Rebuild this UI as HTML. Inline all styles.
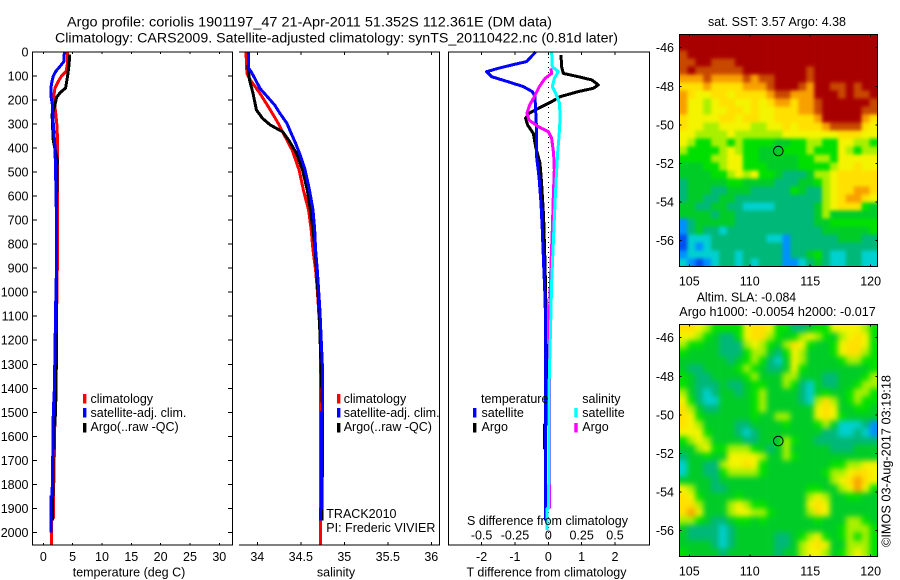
<!DOCTYPE html>
<html>
<head>
<meta charset="utf-8">
<title>Argo profile</title>
<style>
html,body{margin:0;padding:0;background:#fff;width:900px;height:580px;overflow:hidden}
svg{display:block}
text{font-family:"Liberation Sans",sans-serif;font-size:12.5px;fill:#000}
</style>
</head>
<body>
<svg id="chart" xmlns="http://www.w3.org/2000/svg" width="900" height="580" viewBox="0 0 900 580">
<defs>
<filter id="blur-sst" x="-10%" y="-10%" width="120%" height="120%" color-interpolation-filters="sRGB"><feGaussianBlur stdDeviation="1.8"/></filter>
<filter id="blur-sla" x="-10%" y="-10%" width="120%" height="120%" color-interpolation-filters="sRGB"><feGaussianBlur stdDeviation="3"/></filter>
<clipPath id="clip-sst"><rect x="679.5" y="34.5" width="198" height="232"/></clipPath>
<clipPath id="clip-sla"><rect x="679.5" y="324.5" width="198" height="232"/></clipPath>
</defs>
<text x="67" y="26.5" font-size="13.5" style="font-size:13.5px" textLength="485" lengthAdjust="spacingAndGlyphs">Argo profile: coriolis 1901197_47 21-Apr-2011 51.352S 112.361E (DM data)</text>
<text x="55" y="42.5" style="font-size:13.5px" textLength="563" lengthAdjust="spacingAndGlyphs">Climatology: CARS2009. Satellite-adjusted climatology: synTS_20110422.nc (0.81d later)</text>

<g id="panels"></g>

<text x="129" y="576.5" text-anchor="middle">temperature (deg C)</text>
<text x="336" y="576.5" text-anchor="middle">salinity</text>
<text x="546.5" y="576.5" text-anchor="middle">T difference from climatology</text>
<text x="547.5" y="525" text-anchor="middle">S difference from climatology</text>

<g>
<rect x="83" y="394" width="3.4" height="9.5" fill="#ff0000"/>
<text x="90.5" y="403">climatology</text>
<rect x="83" y="408" width="3.4" height="9.5" fill="#0000ff"/>
<text x="90.5" y="417">satellite-adj. clim.</text>
<rect x="83" y="423" width="3.4" height="9.5" fill="#000"/>
<text x="90.5" y="431">Argo(..raw -QC)</text>
</g>
<g>
<rect x="337" y="394" width="3.4" height="9.5" fill="#ff0000"/>
<text x="343.7" y="403">climatology</text>
<rect x="337" y="408" width="3.4" height="9.5" fill="#0000ff"/>
<text x="343.7" y="417">satellite-adj. clim.</text>
<rect x="337" y="423" width="3.4" height="9.5" fill="#000"/>
<text x="343.7" y="431">Argo(..raw -QC)</text>
</g>
<text x="326.3" y="518">TRACK2010</text>
<text x="326.3" y="532">PI: Frederic VIVIER</text>

<g>
<text x="481" y="403">temperature</text>
<rect x="473" y="408" width="3.4" height="9.5" fill="#0000ff"/>
<text x="481.5" y="417">satellite</text>
<rect x="473" y="423" width="3.4" height="9.5" fill="#000"/>
<text x="481.5" y="431">Argo</text>
<text x="582.3" y="403">salinity</text>
<rect x="574.3" y="408" width="3.4" height="9.5" fill="#00ffff"/>
<text x="582.3" y="417">satellite</text>
<rect x="574.3" y="423" width="3.4" height="9.5" fill="#ff00ff"/>
<text x="582.3" y="431">Argo</text>
</g>

<g id="maps"></g>

<text x="777" y="26" text-anchor="middle" textLength="138" lengthAdjust="spacingAndGlyphs">sat. SST: 3.57 Argo: 4.38</text>
<text x="696.7" y="301.5" textLength="99.5" lengthAdjust="spacingAndGlyphs">Altim. SLA: -0.084</text>
<text x="679.3" y="316" textLength="196.5" lengthAdjust="spacingAndGlyphs">Argo h1000: -0.0054 h2000: -0.017</text>
<text transform="translate(890.5,547) rotate(-90)" textLength="172" lengthAdjust="spacingAndGlyphs">©IMOS 03-Aug-2017 03:19:18</text>
</svg>

<script>
// ---- axis tick values ----
const depthTicks = [0,100,200,300,400,500,600,700,800,900,1000,1100,1200,1300,1400,1500,1600,1700,1800,1900,2000];
const tempTicks = [0,5,10,15,20,25,30];
const salTicks = [34,34.5,35,35.5,36];
const salTickLabels = ['34','34.5','35','35.5','36'];
const diffTTicks = [-2,-1,0,1,2];
const diffSTicks = [-0.5,-0.25,0,0.25,0.5];
const diffSTickLabels = ['-0.5','-0.25','0','0.25','0.5'];
const lonTicks = [105,110,115,120];
const latTicks = [-46,-48,-50,-52,-54,-56];

// ---- temperature profiles ----
const tempClimDepth = [0,50,80,100,120,150,180,200,250,300,350,400,600,870,1200,1500,1700,1790,1791,1940,1941,2000,2052];
const tempClimValues = [4.1,4.1,3.9,3.1,2.6,2.0,1.8,1.8,2.1,2.3,2.4,2.45,2.4,2.4,2.2,2.0,1.85,1.85,1.7,1.7,1.4,1.4,1.4];
const tempSatDepth = [0,40,60,80,100,120,150,190,220,300,400,500,700,900,1000,1400,1500,1700,1850,1851,2000];
const tempSatValues = [3.6,3.5,2.85,2.15,1.7,1.5,1.3,1.35,1.55,1.7,2.0,2.1,2.25,2.25,2.15,1.9,1.7,1.6,1.5,1.3,1.3];
const tempArgoDepth = [10,50,100,150,170,190,220,260,320,370,450,520,1000,1400,1550,1551,1650,1651,1900,1950];
const tempArgoValues = [4.5,4.4,4.15,3.8,2.85,2.25,2.0,1.5,1.6,1.7,2.4,2.3,2.25,2.2,2.0,1.85,1.85,1.65,1.6,1.6];

// ---- salinity profiles ----
const salClimDepth = [0,89,116,172,241,297,352,408,491,575,658,741,824,908,991,1074,1200,2052];
const salClimValues = [33.87,33.88,33.92,34.03,34.15,34.24,34.32,34.4,34.48,34.53,34.59,34.62,34.64,34.67,34.69,34.705,34.728,34.728];
const salSatDepth = [0,68,82,116,151,186,221,255,297,339,380,436,491,575,658,741,824,908,991,1074,1300,1500,1501,1900,1901,1950];
const salSatValues = [33.9,33.9,33.93,33.98,34.03,34.115,34.2,34.26,34.34,34.39,34.44,34.5,34.55,34.6,34.64,34.66,34.67,34.69,34.705,34.72,34.747,34.747,34.737,34.737,34.728,34.728];
const salArgoDepth = [54,116,172,241,276,304,332,366,422,491,575,658,741,824,908,1074,1500,1600,1850,1950];
const salArgoValues = [33.89,33.91,33.95,33.99,34.06,34.15,34.29,34.36,34.45,34.52,34.575,34.61,34.64,34.665,34.68,34.71,34.75,34.75,34.745,34.745];

// ---- difference profiles ----
const diffTSatDepth = [0,40,54,68,82,103,124,144,165,186,241,325,436,519,630,741,880,1019,1074,1400,1500,1650,1900,1950];
const diffTSatValues = [-0.38,-0.65,-1.1,-1.5,-1.85,-1.7,-1.2,-0.75,-0.48,-0.4,-0.38,-0.35,-0.35,-0.28,-0.22,-0.18,-0.14,-0.1,-0.09,-0.08,-0.08,-0.09,-0.09,-0.09];
const diffTArgoDepth = [12,61,89,103,116,137,151,165,186,207,235,255,276,304,339,394,463,547,686,880,1074,1400,1550,1551,1650,1651,1900,1950];
const diffTArgoValues = [0.38,0.4,0.45,0.9,1.3,1.5,1.35,0.9,0.35,0.1,-0.3,-0.58,-0.68,-0.62,-0.45,-0.38,-0.25,-0.2,-0.14,-0.1,-0.07,-0.05,-0.05,-0.11,-0.11,-0.08,-0.08,-0.08];
const diffSSatDepth = [0,61,82,110,144,172,214,283,352,422,519,630,797,963,1074,1400,1900,1901,1990];
const diffSSatValues = [0.025,0.03,0.075,0.045,0.03,0.055,0.085,0.0875,0.08,0.07,0.06,0.05,0.0375,0.025,0.02,0.005,0.003,-0.008,-0.008];
const diffSArgoDepth = [68,89,110,144,186,221,255,283,311,332,359,422,491,602,741,880,1074,1400,1900];
const diffSArgoValues = [0.02,0.025,-0.025,-0.0675,-0.105,-0.14,-0.16,-0.145,-0.075,0,0.025,0.04,0.045,0.0375,0.03,0.02,0.01,0.008,0.008];

// ---- argo float position ----
const floatLon = [112.361];
const floatLat = [-51.352];

// ---- colour classes for the maps ----
const mapColours = ['#0050f0','#0090ff','#00d0d0','#00b878','#00cc28','#00e000','#a8f000','#f4f400','#ffe000','#f8a000','#c84800','#a80000'];

// ---- SST map classes, north to south ----
const sstGrid = [
[11,11,11,11,11,11,11,11,11,11,11,11,11,11,11,11,11,11,11,11,11,11,11,11,11],
[11,11,11,11,11,11,11,11,11,11,11,11,11,11,11,11,11,11,11,11,11,11,11,11,11],
[10,11,11,11,11,11,11,11,11,11,11,11,11,11,11,11,11,11,11,11,11,11,11,11,11],
[10,10,11,11,10,10,10,11,11,11,11,11,11,11,11,11,11,11,11,11,11,11,11,11,11],
[10,11,10,10,10,10,10,10,11,11,11,11,11,11,11,11,10,11,11,11,11,11,11,11,11],
[9,9,9,10,9,9,9,9,10,9,10,10,11,11,11,11,10,11,11,11,11,11,11,11,11],
[8,8,8,9,8,8,8,8,9,9,9,10,11,11,11,10,9,11,11,10,10,11,10,11,11],
[9,8,7,7,8,8,7,8,8,8,8,9,10,10,9,9,9,11,11,11,10,11,10,10,11],
[9,7,7,6,7,8,8,7,7,8,7,8,9,9,8,9,9,10,11,11,11,11,11,11,10],
[9,7,7,6,7,7,8,8,7,8,7,7,8,8,8,9,9,10,11,11,11,11,11,10,10],
[8,7,7,7,7,8,8,7,8,8,7,7,8,8,8,8,8,9,11,11,11,11,11,9,8],
[8,7,7,6,6,7,7,7,7,6,6,7,7,8,7,8,8,8,9,10,10,10,10,8,7],
[7,7,6,6,6,6,7,6,6,6,6,6,6,7,7,7,7,7,7,7,8,8,8,7,7],
[7,6,5,5,6,6,5,6,5,5,5,5,4,4,5,5,6,6,5,5,7,7,6,6,5],
[6,5,5,5,5,6,7,6,5,5,4,4,4,5,5,5,6,5,5,5,7,6,5,6,6],
[5,5,5,5,6,6,7,7,5,5,4,4,4,4,4,5,5,6,6,5,7,7,7,7,7],
[4,4,4,5,5,6,7,7,5,5,5,4,4,4,4,5,5,5,5,6,7,7,8,7,7],
[4,4,4,4,5,5,6,7,6,7,5,5,4,3,3,3,4,6,6,7,8,8,8,8,8],
[3,4,4,4,4,4,5,5,4,4,4,4,3,3,3,4,4,5,6,7,8,8,8,8,8],
[3,4,4,4,3,3,4,4,4,3,3,3,3,3,5,4,3,3,6,7,8,8,9,9,8],
[3,4,4,3,3,4,4,3,3,3,3,3,3,3,3,3,3,3,6,7,8,9,9,8,7],
[4,4,3,3,4,4,3,3,2,2,2,2,3,3,3,3,3,4,6,7,8,8,8,5,4],
[4,4,4,4,3,4,4,3,3,3,3,3,3,3,3,3,3,4,6,4,4,4,4,4,4],
[1,3,4,4,4,4,4,3,3,3,3,3,3,3,3,3,3,4,4,5,5,5,5,5,5],
[1,3,4,3,3,2,3,3,3,3,3,3,3,3,3,3,3,3,4,4,4,4,4,4,5],
[0,2,2,2,3,3,3,3,3,3,3,2,2,1,3,3,3,3,3,3,4,4,4,3,3],
[0,2,1,2,3,3,3,3,3,3,3,3,3,1,3,3,3,3,3,3,3,3,3,3,3],
[1,2,2,2,2,3,3,2,3,3,3,3,3,1,3,3,4,5,3,2,2,3,3,2,2],
[2,1,0,1,2,3,3,2,3,2,3,3,3,1,1,2,3,4,3,2,2,3,3,2,2]
];

// ---- SLA map classes, north to south ----
const slaGrid = [
[8,8,7,6,5,5,5,5,7,8,8,7,5,5,3,3,4,5,5,7,7,7,7,6,5],
[7,7,6,5,4,3,3,5,7,8,8,6,5,4,5,6,7,6,5,4,6,7,8,7,5],
[6,5,5,4,4,3,3,3,6,7,6,5,4,6,8,7,5,4,4,5,7,8,8,7,5],
[5,4,4,4,4,3,3,3,5,6,6,4,3,5,7,6,4,4,4,5,7,8,8,6,5],
[4,4,4,4,4,4,3,4,5,6,5,3,2,4,7,6,4,4,4,4,5,6,6,5,5],
[4,3,3,4,4,4,4,5,6,5,4,3,3,4,7,5,4,4,4,4,4,4,4,4,5],
[5,4,3,3,4,4,4,4,5,6,4,4,4,6,6,4,4,4,3,3,4,4,4,5,6],
[5,4,3,3,3,4,3,3,4,5,5,4,4,6,5,3,2,4,3,3,4,4,5,6,6],
[6,4,3,2,3,4,4,3,4,5,6,4,4,4,4,3,2,4,5,4,4,5,6,6,5],
[7,5,3,2,2,4,4,4,4,5,6,4,4,4,4,3,2,6,8,6,4,5,6,5,5],
[8,6,4,3,3,4,4,4,4,5,6,4,4,4,4,4,4,7,8,7,4,4,5,5,4],
[8,7,5,4,4,4,4,4,4,5,4,4,6,6,4,4,4,7,8,7,5,4,4,4,4],
[8,7,6,4,4,4,4,3,3,4,4,4,4,5,4,4,4,5,6,4,2,2,2,3,1],
[7,7,7,5,4,4,4,3,2,3,4,4,4,4,4,4,4,4,3,3,2,2,3,2,1],
[5,6,7,6,4,4,4,4,3,3,4,4,4,6,5,4,4,3,3,3,3,3,3,3,3],
[4,4,6,7,5,5,6,6,6,5,4,3,4,6,4,4,4,4,4,3,3,3,4,4,4],
[3,4,4,5,4,4,7,7,7,7,6,4,4,6,5,4,4,4,4,4,4,4,4,4,4],
[2,4,4,3,3,6,7,7,8,7,5,4,4,4,4,4,4,4,4,5,5,6,6,7,7],
[2,4,4,3,3,5,6,6,6,6,5,4,4,4,4,4,4,4,5,6,6,7,8,8,7],
[4,4,4,4,3,4,4,4,4,4,4,4,4,4,4,4,4,4,4,6,7,8,9,8,7],
[7,6,4,4,3,3,4,4,4,4,4,4,4,4,4,4,5,5,4,4,6,7,9,7,5],
[8,7,5,4,4,4,4,5,4,4,4,4,4,4,4,4,6,7,6,4,4,5,5,4,4],
[8,8,6,4,4,4,6,7,6,5,5,4,4,4,4,4,7,8,7,4,4,4,4,4,4],
[8,9,7,4,4,4,6,7,7,6,6,5,4,4,4,4,6,8,7,4,4,4,4,4,4],
[6,6,5,4,3,3,4,5,5,4,5,4,4,4,4,4,4,5,4,4,4,6,6,5,4],
[4,3,3,3,3,2,3,4,4,4,4,4,4,4,4,4,4,4,4,4,5,6,6,6,5],
[4,3,3,3,3,2,3,4,4,4,4,4,3,3,4,5,6,7,5,4,5,6,5,6,5],
[4,4,4,4,3,2,3,4,4,4,4,4,3,3,4,6,7,8,7,4,4,6,6,6,5],
[5,4,4,4,4,3,4,4,4,4,4,4,3,4,4,6,7,7,6,4,5,6,7,6,5]
];

// ---- axis functions ----
const yDepth = d => 52 + d * 0.2402;
const xTemp = t => 43.3 + t * 5.867;
const xSal = s => 257.3 + (s - 34) * 87;
const xDiffT = t => 548.3 + t * 33.35;
const xDiffS = s => 548.3 + s * 133.4;
const xLon = lon => 689.3 + (lon - 105) * 12.09;
const yLatSst = lat => 47.7 + (-46 - lat) * 19.3;
const yLatSla = lat => 337.7 + (-46 - lat) * 19.3;

const NS = 'http://www.w3.org/2000/svg';
const panelRoot = document.getElementById('panels');
const mapRoot = document.getElementById('maps');

function addLine(parent, name, x1, y1, x2, y2, width) {
  const el = document.createElementNS(NS, 'line');
  
  
  el.setAttribute('x1', x1);
  el.setAttribute('y1', y1);
  el.setAttribute('x2', x2);
  el.setAttribute('y2', y2);
  el.setAttribute('stroke', '#000');
  el.setAttribute('stroke-width', width || 1);
  el.setAttribute('shape-rendering', 'crispEdges');
  parent.appendChild(el);
  return el;
}

function addLabel(parent, name, x, y, anchor, str) {
  const el = document.createElementNS(NS, 'text');
  
  
  el.setAttribute('x', x);
  el.setAttribute('y', y);
  el.setAttribute('text-anchor', anchor);
  el.textContent = str;
  parent.appendChild(el);
  return el;
}

function addProfile(parent, name, depths, values, xFn, colour, width) {
  const el = document.createElementNS(NS, 'polyline');
  
  
  el.setAttribute('points', depths.map((d, i) => xFn(values[i]).toFixed(1) + ',' + yDepth(d).toFixed(1)).join(' '));
  el.setAttribute('fill', 'none');
  el.setAttribute('stroke', colour);
  el.setAttribute('stroke-width', width);
  el.setAttribute('shape-rendering', 'crispEdges');
  el.setAttribute('stroke-linejoin', 'round');
  parent.appendChild(el);
  return el;
}

function addGroup(parent, name) {
  const el = document.createElementNS(NS, 'g');
  
  
  parent.appendChild(el);
  return el;
}

const TOP = 52, BOTTOM = 545;

// temperature panel
const tempPanel = addGroup(panelRoot, 'temperature-panel');
addProfile(tempPanel, 'temperature-climatology-line', tempClimDepth, tempClimValues, xTemp, '#ff0000', 3);
addProfile(tempPanel, 'temperature-argo-line', tempArgoDepth, tempArgoValues, xTemp, '#000000', 3);
addProfile(tempPanel, 'temperature-satellite-line', tempSatDepth, tempSatValues, xTemp, '#0000ff', 3);
addLine(tempPanel, 'temperature-axis-top', 32, TOP, 233, TOP);
addLine(tempPanel, 'temperature-axis-bottom', 32, BOTTOM, 233, BOTTOM);
addLine(tempPanel, 'temperature-axis-left', 32.5, TOP, 32.5, BOTTOM);
addLine(tempPanel, 'temperature-axis-right', 232.5, TOP, 232.5, BOTTOM);
depthTicks.forEach(d => {
  addLine(tempPanel, 'depth-tick-left', 32.5, yDepth(d), 37, yDepth(d));
  addLine(tempPanel, 'depth-tick-right', 228, yDepth(d), 232.5, yDepth(d));
  addLabel(tempPanel, 'depth-tick-label', 28.5, yDepth(d) + 4.5, 'end', String(d));
});
tempTicks.forEach(t => {
  addLine(tempPanel, 'temperature-tick-top', xTemp(t), TOP, xTemp(t), TOP + 2);
  addLine(tempPanel, 'temperature-tick-bottom', xTemp(t), BOTTOM - 2, xTemp(t), BOTTOM);
  addLabel(tempPanel, 'temperature-tick-label', xTemp(t), 561, 'middle', String(t));
});

// salinity panel
const salPanel = addGroup(panelRoot, 'salinity-panel');
addProfile(salPanel, 'salinity-climatology-line', salClimDepth, salClimValues, xSal, '#ff0000', 3);
addProfile(salPanel, 'salinity-argo-line', salArgoDepth, salArgoValues, xSal, '#000000', 3);
addProfile(salPanel, 'salinity-satellite-line', salSatDepth, salSatValues, xSal, '#0000ff', 3);
addLine(salPanel, 'salinity-axis-top', 239, TOP, 440, TOP);
addLine(salPanel, 'salinity-axis-bottom', 239, BOTTOM, 440, BOTTOM);
addLine(salPanel, 'salinity-axis-right', 439.5, TOP, 439.5, BOTTOM);
salTicks.forEach((s, i) => {
  addLine(salPanel, 'salinity-tick-top', xSal(s), TOP, xSal(s), TOP + 3);
  addLine(salPanel, 'salinity-tick-bottom', xSal(s), BOTTOM - 3, xSal(s), BOTTOM);
  addLabel(salPanel, 'salinity-tick-label', xSal(s), 561, 'middle', salTickLabels[i]);
});

// difference panel
const diffPanel = addGroup(panelRoot, 'difference-panel');
const zeroLine = addLine(diffPanel, 'zero-difference-line', xDiffT(0), TOP, xDiffT(0), BOTTOM);
zeroLine.setAttribute('stroke-dasharray', '1 4');
addProfile(diffPanel, 'difference-t-argo-line', diffTArgoDepth, diffTArgoValues, xDiffT, '#000000', 3);
addProfile(diffPanel, 'difference-t-satellite-line', diffTSatDepth, diffTSatValues, xDiffT, '#0000ff', 3);
addProfile(diffPanel, 'difference-s-argo-line', diffSArgoDepth, diffSArgoValues, xDiffS, '#ff00ff', 3);
addProfile(diffPanel, 'difference-s-satellite-line', diffSSatDepth, diffSSatValues, xDiffS, '#00ffff', 3);
addLine(diffPanel, 'difference-axis-top', 448, TOP, 650, TOP);
addLine(diffPanel, 'difference-axis-bottom', 448, BOTTOM, 650, BOTTOM);
addLine(diffPanel, 'difference-axis-left', 448.5, TOP, 448.5, BOTTOM);
addLine(diffPanel, 'difference-axis-right', 649.5, TOP, 649.5, BOTTOM);
diffTTicks.forEach(t => {
  addLine(diffPanel, 'difference-t-tick-top', xDiffT(t), TOP, xDiffT(t), TOP + 3);
  addLine(diffPanel, 'difference-t-tick-bottom', xDiffT(t), BOTTOM - 3, xDiffT(t), BOTTOM);
  addLabel(diffPanel, 'difference-t-tick-label', xDiffT(t), 561, 'middle', String(t));
});
diffSTicks.forEach((s, i) => {
  addLabel(diffPanel, 'difference-s-tick-label', xDiffS(s), 539.5, 'middle', diffSTickLabels[i]);
});

// maps
function drawMap(name, grid, clipId, filterId, top, yLat) {
  const root = addGroup(mapRoot, name);
  const clip = addGroup(root, name + '-clip');
  clip.setAttribute('clip-path', 'url(#' + clipId + ')');
  const cells = addGroup(clip, name + '-cells');
  cells.setAttribute('filter', 'url(#' + filterId + ')');
  const left = 679.5, w = 198, h = 232;
  const rows = grid.length, cols = grid[0].length;
  const cw = w / cols, ch = h / rows;
  grid.forEach((row, r) => {
    row.forEach((v, c) => {
      const el = document.createElementNS(NS, 'rect');
      
      
      const pad = 12;
      const x0 = left + c * cw - (c === 0 ? pad : 0);
      const y0 = top + r * ch - (r === 0 ? pad : 0);
      const x1 = left + (c + 1) * cw + (c === cols - 1 ? pad : 0);
      const y1 = top + (r + 1) * ch + (r === rows - 1 ? pad : 0);
      el.setAttribute('x', x0);
      el.setAttribute('y', y0);
      el.setAttribute('width', x1 - x0 + 0.3);
      el.setAttribute('height', y1 - y0 + 0.3);
      el.setAttribute('fill', mapColours[v]);
      cells.appendChild(el);
    });
  });
  const marker = document.createElementNS(NS, 'circle');
  
  
  marker.setAttribute('cx', xLon(floatLon[0]));
  marker.setAttribute('cy', yLat(floatLat[0]));
  marker.setAttribute('r', 4.8);
  marker.setAttribute('fill', 'none');
  marker.setAttribute('stroke', '#000');
  marker.setAttribute('stroke-width', 1);
  root.appendChild(marker);
  addLine(root, name + '-axis-top', 679, top, 878, top);
  addLine(root, name + '-axis-bottom', 679, top + h, 878, top + h);
  addLine(root, name + '-axis-left', left, top, left, top + h);
  addLine(root, name + '-axis-right', left + w, top, left + w, top + h);
  lonTicks.forEach(lon => {
    addLine(root, name + '-lon-tick', xLon(lon), top, xLon(lon), top + 2);
    addLine(root, name + '-lon-tick', xLon(lon), top + h - 2, xLon(lon), top + h);
    addLabel(root, name + '-lon-label', xLon(lon), top + h + 19, 'middle', String(lon));
  });
  latTicks.forEach(lat => {
    addLine(root, name + '-lat-tick', left, yLat(lat), left + 2, yLat(lat));
    addLine(root, name + '-lat-tick', left + w - 2, yLat(lat), left + w, yLat(lat));
    addLabel(root, name + '-lat-label', 674, yLat(lat) + 4.5, 'end', String(lat));
  });
}
drawMap('sst-map', sstGrid, 'clip-sst', 'blur-sst', 34.5, yLatSst);
drawMap('sla-map', slaGrid, 'clip-sla', 'blur-sla', 324.5, yLatSla);
</script>
</body>
</html>
